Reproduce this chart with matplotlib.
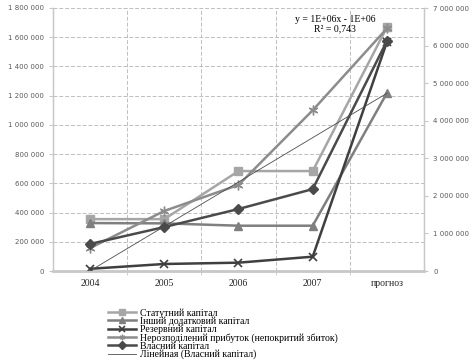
import numpy as np
import matplotlib.pyplot as plt
from matplotlib.ticker import FuncFormatter, FixedLocator

categories = ["2004", "2005", "2006", "2007", "прогноз"]

# left axis series
statutnyi = [355000, 355000, 684000, 684000, 1668000]
inshyi = [328000, 326000, 310000, 310000, 1218000]
rezervnyi = [15000, 48000, 57000, 98000, 1567000]
nerozpodil = [157000, 411000, 589000, 1100000, 1660000]

# right axis series
vlasnyi = [720000, 1170000, 1650000, 2180000, 6120000]

labels = ["Статутний капітал", "Інший додатковий капітал", "Резервний капітал",
          "Нерозподілений прибуток (непокритий збиток)", "Власний капітал",
          "Лінейная (Власний капітал)"]

serif = "Liberation Serif"
grid_c = "#bfbfbf"
axis_c = "#c8c8c8"
tick_c = "#595959"


def fmt(v, pos):
    return f"{int(round(v)):,}".replace(",", " ")


fig = plt.figure(figsize=(4.77, 3.63), dpi=100)
ax = fig.add_axes([53 / 477, 1 - 271 / 363, 371 / 477, 263 / 363])
ax2 = ax.twinx()

x = np.arange(len(categories))

h1, = ax.plot(x, statutnyi, color="#a6a6a6", lw=1.8, marker="s", ms=6, zorder=3)
h2, = ax.plot(x, inshyi, color="#7f7f7f", lw=1.8, marker="^", ms=6, zorder=3)
h3, = ax.plot(x, rezervnyi, color="#3f3f3f", lw=1.8, marker="x", ms=6, mew=1.2, zorder=3)
h4, = ax.plot(x, nerozpodil, color="#8c8c8c", lw=1.8, marker=(6, 2, 0), ms=7, mew=1.0, zorder=3)

h5, = ax2.plot(x, vlasnyi, color="#4a4a4a", lw=1.8, marker="D", ms=5, zorder=3)
k, b = np.polyfit(x + 1, vlasnyi, 1)
h6, = ax2.plot(x, k * (x + 1) + b, color="#4d4d4d", lw=0.6, zorder=2)

ax.set_xlim(-0.5, 4.5)
ax.set_ylim(0, 1800000)
ax2.set_ylim(0, 7000000)

ax.set_yticks(np.arange(0, 1800001, 200000))
ax2.set_yticks(np.arange(0, 7000001, 1000000))
ax.yaxis.set_major_formatter(FuncFormatter(fmt))
ax2.yaxis.set_major_formatter(FuncFormatter(fmt))

ax.set_xticks(x)
ax.set_xticklabels(categories, fontfamily=serif, fontsize=7, color="#262626")
ax.xaxis.set_minor_locator(FixedLocator([0.5, 1.5, 2.5, 3.5]))
ax.tick_params(axis="x", which="major", length=0, pad=6)
ax.tick_params(axis="x", which="minor", length=3, color=axis_c)

for a in (ax, ax2):
    a.tick_params(axis="y", labelsize=5, colors=tick_c, length=3, width=0.8)
    a.tick_params(axis="y", color=axis_c)
    for s in a.spines.values():
        s.set_color(axis_c)
    a.spines["top"].set_visible(False)
ax.spines["bottom"].set_linewidth(2)
ax.spines["left"].set_linewidth(1)
ax2.spines["right"].set_linewidth(1)

ax.grid(axis="y", which="major", color=grid_c, ls=(0, (4, 2)), lw=0.7)
ax.grid(axis="x", which="minor", color=grid_c, ls=(0, (4, 2)), lw=0.7)
ax.set_axisbelow(True)

ax.text(3.3, 1750000, "y = 1E+06x - 1E+06\nR² = 0,743", ha="center", va="top",
        fontfamily=serif, fontsize=7, linespacing=0.95)

leg = fig.legend([h1, h2, h3, h4, h5, h6], labels, loc="upper left",
                 bbox_to_anchor=(108 / 477, 1 - 308 / 363), frameon=False,
                 prop={"family": serif, "size": 7}, labelspacing=-0.12,
                 handlelength=2.9, handletextpad=0.4, borderpad=0, borderaxespad=0)
for line in leg.get_lines():
    line.set_markersize(4)

fig.savefig("out.png", dpi=100)
